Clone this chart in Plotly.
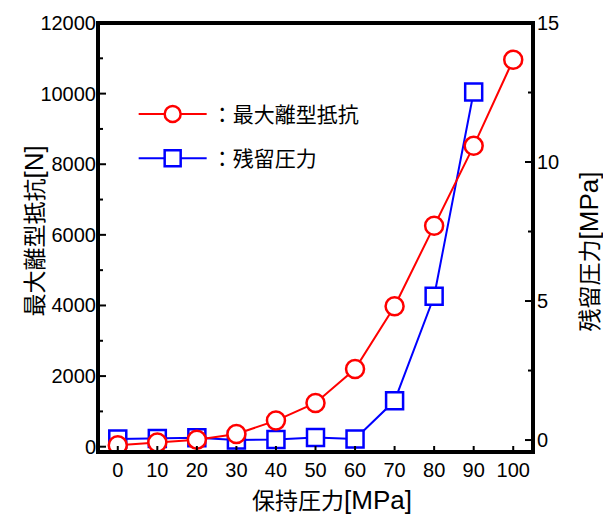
import plotly.graph_objects as go

holding_pressure = [0, 10, 20, 30, 40, 50, 60, 70, 80, 90, 100]
max_release_resistance = [40, 120, 200, 360, 740, 1240, 2200, 3980, 6260, 8520, 10960]
residual_pressure_x = [0, 10, 20, 30, 40, 50, 60, 70, 80, 90]
residual_pressure = [0.04, 0.06, 0.08, 0.0, 0.02, 0.09, 0.04, 1.41, 5.17, 12.52]
left_ticks = [0, 2000, 4000, 6000, 8000, 10000, 12000]
left_minor = [1000, 3000, 5000, 7000, 9000, 11000]
right_ticks = [0, 5, 10, 15]
right_minor = [2.5, 7.5, 12.5]
x_ticks = [0, 10, 20, 30, 40, 50, 60, 70, 80, 90, 100]

LEFT_RANGE = [-150, 12000]
RIGHT_RANGE = [-0.43, 15]
X_RANGE = [-5, 105]

FONT = "Liberation Sans, Arial, Noto Sans CJK JP, sans-serif"

fig = go.Figure()

# blue on base axis (right), red on overlaying axis (left) so red draws on top
fig.add_trace(go.Scatter(
    x=residual_pressure_x, y=residual_pressure, yaxis="y",
    mode="lines+markers", name="：残留圧力",
    line=dict(color="#0000ff", width=2),
    marker=dict(symbol="square", size=17, color="white",
                line=dict(width=2.5, color="#0000ff")),
    legendrank=2, legendgroup="b",
))
fig.add_trace(go.Scatter(
    x=holding_pressure, y=max_release_resistance, yaxis="y2",
    mode="lines+markers", name="：最大離型抵抗",
    line=dict(color="#ff0000", width=2),
    marker=dict(symbol="circle", size=18, color="white",
                line=dict(width=2.5, color="#ff0000")),
    legendrank=1, legendgroup="a",
))

def axis_common():
    return dict(showline=False, ticks="", showgrid=False, zeroline=False,
                tickfont=dict(family=FONT, size=20, color="black"))

fig.update_layout(
    width=603, height=519,
    margin=dict(l=98, r=70, t=20, b=67),
    paper_bgcolor="white", plot_bgcolor="rgba(0,0,0,0)",
    font=dict(family=FONT, color="black"),
    xaxis=dict(range=X_RANGE, tickmode="array", tickvals=x_ticks,
               ticktext=[str(v) for v in x_ticks], ticklabelstandoff=4,
               **axis_common()),
    yaxis=dict(side="right", range=RIGHT_RANGE, tickmode="array",
               tickvals=right_ticks, ticktext=[str(v) for v in right_ticks],
               ticklabelstandoff=3, **axis_common()),
    yaxis2=dict(side="left", overlaying="y", range=LEFT_RANGE,
                tickmode="array", tickvals=left_ticks,
                ticktext=[str(v) for v in left_ticks], ticklabelstandoff=1,
                **axis_common()),
    showlegend=True,
    legend=dict(x=0.082, y=0.835, xanchor="left", yanchor="top",
                bgcolor="rgba(0,0,0,0)", itemwidth=68, tracegroupgap=14,
                font=dict(family=FONT, size=21, color="black")),
)

# frame
fig.add_shape(type="rect", xref="paper", yref="paper", x0=0, y0=0, x1=1, y1=1,
              line=dict(color="black", width=4), fillcolor="rgba(0,0,0,0)")

TICK = dict(color="black", width=2)
for v in left_ticks:
    fig.add_shape(type="line", xref="paper", xsizemode="pixel", xanchor=0,
                  x0=0, x1=8, yref="y2", y0=v, y1=v, line=TICK)
for v in left_minor:
    fig.add_shape(type="line", xref="paper", xsizemode="pixel", xanchor=0,
                  x0=0, x1=5, yref="y2", y0=v, y1=v, line=TICK)
for v in right_ticks:
    fig.add_shape(type="line", xref="paper", xsizemode="pixel", xanchor=1,
                  x0=0, x1=-8, yref="y", y0=v, y1=v, line=TICK)
for v in right_minor:
    fig.add_shape(type="line", xref="paper", xsizemode="pixel", xanchor=1,
                  x0=0, x1=-5, yref="y", y0=v, y1=v, line=TICK)
for v in x_ticks:
    fig.add_shape(type="line", yref="paper", ysizemode="pixel", yanchor=0,
                  y0=0, y1=6, xref="x", x0=v, x1=v, line=TICK)

# axis titles
def title_html(cjk, latin):
    return f'<span style="font-size:23px">{cjk}</span><span style="font-size:26px">{latin}</span>'

fig.add_annotation(text=title_html("保持圧力", "[MPa]"), xref="paper", yref="paper",
                   x=0.5, y=0, xshift=16, yshift=-48, showarrow=False,
                   xanchor="center", yanchor="middle", font=dict(family=FONT, color="black"))
fig.add_annotation(text=title_html("最大離型抵抗", "[N]"), xref="paper", yref="paper",
                   x=0, y=0.5, xshift=-65, yshift=6, textangle=-90, showarrow=False,
                   xanchor="center", yanchor="middle", font=dict(family=FONT, color="black"))
fig.add_annotation(text=title_html("残留圧力", "[MPa]"), xref="paper", yref="paper",
                   x=1, y=0.5, xshift=55, yshift=-14, textangle=-90, showarrow=False,
                   xanchor="center", yanchor="middle", font=dict(family=FONT, color="black"))

fig.write_html("out.html")
